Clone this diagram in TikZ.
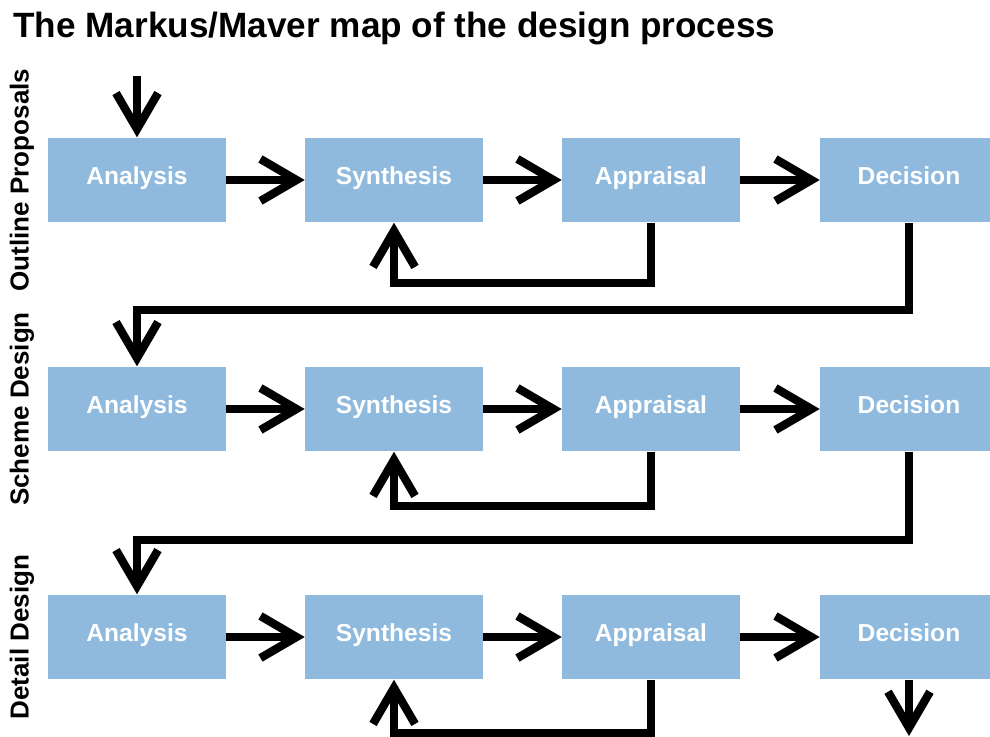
\documentclass[tikz,border=0pt]{standalone}
\usepackage{fontspec}
\setmainfont{Liberation Sans}
\usetikzlibrary{arrows.meta,positioning}
\definecolor{stageblue}{RGB}{143,186,222}

\begin{document}
\begin{tikzpicture}[
    x=0.025cm, y=-0.025cm,
    box/.style={rectangle, fill=stageblue, minimum width=4.45cm, minimum height=2.12cm,
                text=white, text height=0.75em, text depth=0.08em,
                font=\fontsize{17.5}{20}\selectfont\bfseries},
    arrow/.style={-{Straight Barb[length=0.9cm, width=1.05cm]}, line width=5.9pt},
    stage/.style={font=\fontsize{18.5}{21}\selectfont\bfseries, rotate=90, inner sep=0pt},
    title/.style={font=\fontsize{25}{30}\selectfont\bfseries, anchor=base west, inner sep=0pt}
]
\clip (0,0) rectangle (990,736);

% Title
\node[title] (title) at (13,38) {The Markus/Maver map of the design process};

% Three stages, one row each
\foreach \r/\y/\fb/\name in {1/180/60/Outline Proposals, 2/409/54/Scheme Design, 3/637/53/Detail Design} {
    \node[stage] (stage\r) at (22,\y) {\name};
    \node[box] (ana\r) at (137,\y) {Analysis};
    \node[box] (syn\r) at (394,\y) {Synthesis};
    \node[box] (app\r) at (651,\y) {Appraisal};
    \node[box] (dec\r) at (909,\y) {Decision};
    \draw[arrow] (ana\r) -- (syn\r);
    \draw[arrow] (syn\r) -- (app\r);
    \draw[arrow] (app\r) -- (dec\r);
    % feedback loop
    \draw[arrow] (app\r.south) -- ++(0,\fb) -| (syn\r.south);
}

% Links between stages
\draw[arrow] (dec1.south) -- ++(0,87) -| (ana2.north);
\draw[arrow] (dec2.south) -- ++(0,88) -| (ana3.north);

% Entry and exit
\coordinate (start) at (137,76);
\coordinate (finish) at (909,736);
\draw[arrow] (start) -- (ana1.north);
\draw[arrow] (dec3.south) -- (finish);

\end{tikzpicture}
\end{document}
